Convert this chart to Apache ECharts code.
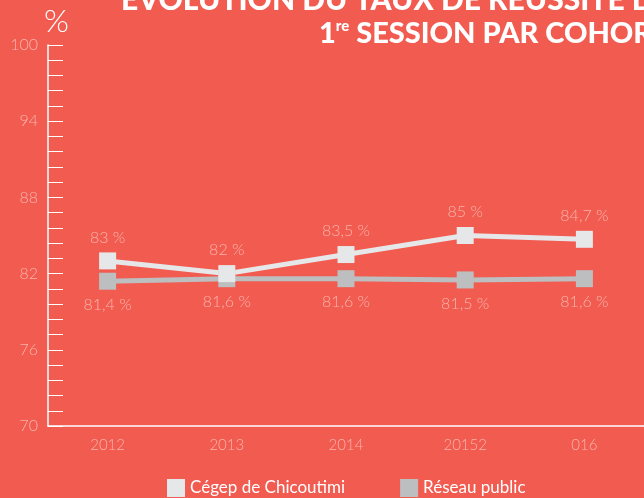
<!DOCTYPE html>
<html><head><meta charset="utf-8">
<script src="https://cdn.jsdelivr.net/npm/echarts@6/dist/echarts.min.js"></script>
<style>html,body{margin:0;padding:0;background:#F15B50;}#c{width:644px;height:498px;}</style>
</head><body><div id="c"></div>
<script>
const categories = ['2012', '2013', '2014', '20152', '016'];
const cegep = [83, 82, 83.5, 85, 84.7];
const reseau = [81.4, 81.6, 81.6, 81.5, 81.6];
const seriesNames = ['Cégep de Chicoutimi', 'Réseau public'];
const yTicks = {min: 70, max: 100, interval: 6};

const bg = '#F15B50';
const labelPink = '#FAB4AC';
const fmt = v => String(v).replace('.', ',') + ' %';
const chart = echarts.init(document.getElementById('c'));
chart.setOption({
  backgroundColor: bg,
  animation: false,
  title: [
    {text: 'ÉVOLUTION DU TAUX DE RÉUSSITE DE', left: 116, top: -20,
     textStyle: {color: '#fff', fontFamily: 'Lato', fontWeight: 900, fontSize: 30}},
    {text: '{a|1}{b|re}{a| SESSION PAR COHORTE}', left: 314, top: 14,
     textStyle: {rich: {
       a: {color: '#fff', fontFamily: 'Lato', fontWeight: 900, fontSize: 29, verticalAlign: 'bottom'},
       b: {color: '#fff', fontFamily: 'Lato', fontWeight: 900, fontSize: 15, verticalAlign: 'top', padding: [0, 0, 14, 0]}
     }}}
  ],
  graphic: [
    {type: 'text', left: 44, top: 6, style: {text: '%', fill: '#fff', font: '300 32px Lato'}}
  ],
  legend: {
    data: seriesNames, bottom: -4, left: 162, itemWidth: 18, itemHeight: 18, itemGap: 55,
    icon: 'rect',
    textStyle: {color: '#fff', fontFamily: 'Lato', fontSize: 17}
  },
  grid: {left: 48, right: -4, top: 45, bottom: 72},
  xAxis: {
    type: 'category', data: categories, boundaryGap: true,
    axisLine: {lineStyle: {color: '#fff', width: 1.5}},
    axisTick: {inside: true, length: 10, alignWithLabel: true, lineStyle: {color: '#fff'}},
    axisLabel: {color: labelPink, fontFamily: 'Lato', fontWeight: 300, fontSize: 15, margin: 12}
  },
  yAxis: {
    type: 'value', min: yTicks.min, max: yTicks.max, interval: yTicks.interval,
    axisLine: {show: true, lineStyle: {color: '#fff', width: 1.5}},
    axisTick: {show: true, inside: true, length: 15, lineStyle: {color: '#fff'}},
    minorTick: {show: true, splitNumber: 5, length: 15, lineStyle: {color: '#fff'}},
    splitLine: {show: false},
    axisLabel: {color: labelPink, fontFamily: 'Lato', fontWeight: 300, fontSize: 16, margin: 10}
  },
  series: [
    {name: seriesNames[1], type: 'line', data: reseau, symbol: 'rect', symbolSize: 17,
     color: '#BDBEC0', lineStyle: {width: 5, color: '#BDBEC0'}, itemStyle: {color: '#BDBEC0'},
     label: {show: true, position: 'bottom', distance: 7, formatter: p => fmt(p.value),
       color: labelPink, fontFamily: 'Lato', fontWeight: 300, fontSize: 16}},
    {name: seriesNames[0], type: 'line', data: cegep, symbol: 'rect', symbolSize: 17,
     color: '#E6E7E8', lineStyle: {width: 5, color: '#E6E7E8'}, itemStyle: {color: '#E6E7E8'},
     label: {show: true, position: 'top', distance: 7, formatter: p => fmt(p.value),
       color: labelPink, fontFamily: 'Lato', fontWeight: 300, fontSize: 16}}
  ]
});
</script></body></html>
